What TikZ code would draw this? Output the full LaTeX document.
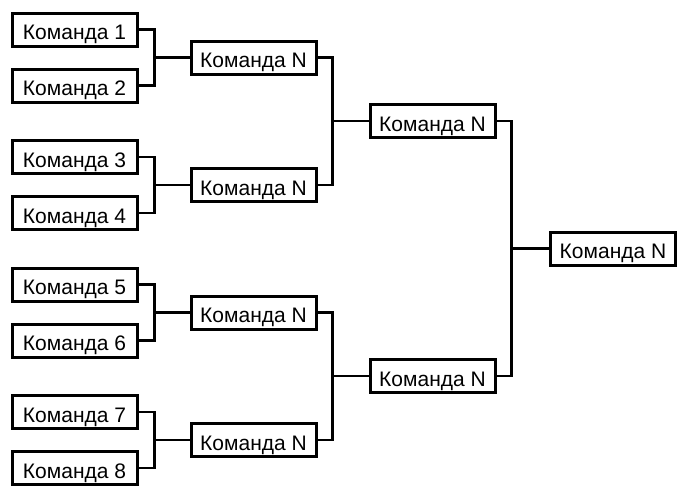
\documentclass[tikz,border=0pt]{standalone}
\usepackage{fontspec}
\setmainfont{Liberation Sans}
\usetikzlibrary{positioning, calc}

\begin{document}
\begin{tikzpicture}[
		x=1pt, y=-1pt,
		% Box Styles
		team_box/.style={rectangle, draw=black, fill=white, line width=3pt, minimum width=125pt, minimum height=33pt, inner sep=0pt, text height=20pt, text depth=0pt, font=\fontsize{21}{25}\selectfont},
		% Edge Styles
		bracket_edge/.style={draw=black, line width=2.6pt}
		]
		\useasboundingbox (0,0) rectangle (689,498);
		
		% --- 1. FIRST ROUND ---
		\node[team_box] (T1) at (74.5,29.5) {Команда 1};
		\node[team_box] (T2) at (74.5,85.5) {Команда 2};
		\node[team_box] (T3) at (74.5,157) {Команда 3};
		\node[team_box] (T4) at (74.5,213) {Команда 4};
		\node[team_box] (T5) at (74.5,284.5) {Команда 5};
		\node[team_box] (T6) at (74.5,340.5) {Команда 6};
		\node[team_box] (T7) at (74.5,412) {Команда 7};
		\node[team_box] (T8) at (74.5,468) {Команда 8};
		
		% --- 2. QUARTER FINALS ---
		\node[team_box] (Q1) at (253.5,57.5) {Команда N};
		\node[team_box] (Q2) at (253.5,185) {Команда N};
		\node[team_box] (Q3) at (253.5,312.5) {Команда N};
		\node[team_box] (Q4) at (253.5,440) {Команда N};
		
		% --- 3. SEMI FINALS ---
		\node[team_box] (S1) at (432.5,121) {Команда N};
		\node[team_box] (S2) at (432.5,376) {Команда N};
		
		% --- 4. FINAL ---
		\node[team_box] (F) at (613,248.5) {Команда N};
		
		% ================= CONNECTORS =================
		
		% First round into quarter finals
		\foreach \a/\b/\w in {T1/T2/Q1, T3/T4/Q2, T5/T6/Q3, T7/T8/Q4}{
			\coordinate[right=16pt of \a.east] (J_\w);
			\draw[bracket_edge] (\a.east) -- (J_\w) |- (\b.east);
			\draw[bracket_edge] (J_\w |- \w.west) -- (\w.west);
		}
		
		% Quarter finals into semi finals
		\foreach \a/\b/\w in {Q1/Q2/S1, Q3/Q4/S2}{
			\coordinate[right=15pt of \a.east] (J_\w);
			\draw[bracket_edge] (\a.east) -- (J_\w) |- (\b.east);
			\draw[bracket_edge] (J_\w |- \w.west) -- (\w.west);
		}
		
		% Semi finals into final
		\coordinate[right=15pt of S1.east] (J_F);
		\draw[bracket_edge] (S1.east) -- (J_F) |- (S2.east);
		\draw[bracket_edge] (J_F |- F.west) -- (F.west);
		
	\end{tikzpicture}
\end{document}
